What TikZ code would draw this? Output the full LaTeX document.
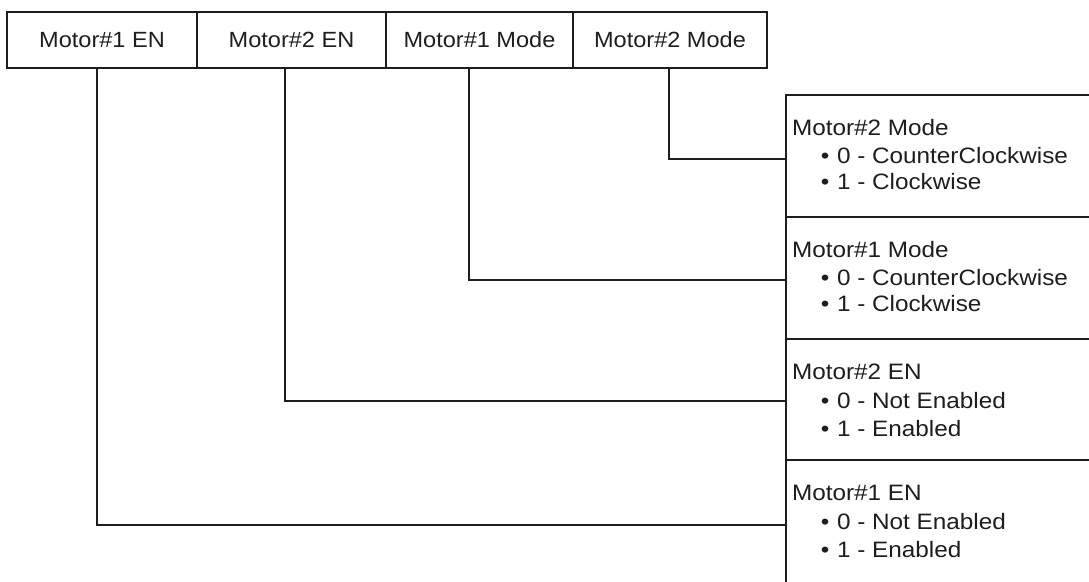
\documentclass[tikz,border=0pt]{standalone}
\usepackage{fontspec}
\newfontfamily\lab[FakeStretch=1.07]{Liberation Sans}
\newfontfamily\labw[FakeStretch=1.09]{Liberation Sans}
\definecolor{ink}{HTML}{1E1E1E}
\begin{document}
\begin{tikzpicture}[x=1pt,y=-1pt,
  every node/.style={font=\lab\fontsize{22}{26}\selectfont, text=ink, inner sep=0pt, outer sep=0pt},
  topbox/.style={draw=ink, line width=2.8pt, minimum height=56pt},
  sidebox/.style={draw=ink, line width=1.8pt, minimum width=314pt},
  sidetext/.style={font=\labw\fontsize{22.3}{26}\selectfont},
  head/.style={sidetext, anchor=base west},
  bul/.style={sidetext, anchor=base},
  item/.style={sidetext, anchor=base west},
  wire/.style={draw=ink, line width=1.6pt}]
\clip (0,0) rectangle (1089,581);
\useasboundingbox (0,0) rectangle (1089,581);
\fill[white] (0,0) rectangle (1089,581);

% top row
\node[topbox, minimum width=190pt] (t1) at (102,40) {Motor\#1 EN};
\node[topbox, minimum width=189pt] (t2) at (291.5,40) {Motor\#2 EN};
\node[topbox, minimum width=187pt] (t3) at (479.5,40) {Motor\#1 Mode};
\node[topbox, minimum width=194pt] (t4) at (670,40) {Motor\#2 Mode};

% right column
\node[sidebox, minimum height=122pt] (r1) at (943,156) {};
\node[sidebox, minimum height=122pt] (r2) at (943,278) {};
\node[sidebox, minimum height=121pt] (r3) at (943,399.5) {};
\node[sidebox, minimum height=130pt] (r4) at (943,525) {};

% texts of r1
\node[head] (h1) at ([xshift=6pt,yshift=-40pt]r1.north west) {Motor\#2 Mode};
\node[bul]  (b1a) at ([xshift=39pt,yshift=-68pt]r1.north west) {•};
\node[item] (i1a) at ([xshift=51pt,yshift=-68pt]r1.north west) {0 - CounterClockwise};
\node[bul]  (b1b) at ([xshift=39pt,yshift=-94pt]r1.north west) {•};
\node[item] (i1b) at ([xshift=51pt,yshift=-94pt]r1.north west) {1 - Clockwise};

% texts of r2
\node[head] (h2) at ([xshift=6pt,yshift=-40pt]r2.north west) {Motor\#1 Mode};
\node[bul]  (b2a) at ([xshift=39pt,yshift=-68pt]r2.north west) {•};
\node[item] (i2a) at ([xshift=51pt,yshift=-68pt]r2.north west) {0 - CounterClockwise};
\node[bul]  (b2b) at ([xshift=39pt,yshift=-94pt]r2.north west) {•};
\node[item] (i2b) at ([xshift=51pt,yshift=-94pt]r2.north west) {1 - Clockwise};

% texts of r3
\node[head] (h3) at ([xshift=6pt,yshift=-40pt]r3.north west) {Motor\#2 EN};
\node[bul]  (b3a) at ([xshift=39pt,yshift=-69pt]r3.north west) {•};
\node[item] (i3a) at ([xshift=51pt,yshift=-69pt]r3.north west) {0 - Not Enabled};
\node[bul]  (b3b) at ([xshift=39pt,yshift=-97pt]r3.north west) {•};
\node[item] (i3b) at ([xshift=51pt,yshift=-97pt]r3.north west) {1 - Enabled};

% texts of r4
\node[head] (h4) at ([xshift=6pt,yshift=-40pt]r4.north west) {Motor\#1 EN};
\node[bul]  (b4a) at ([xshift=39pt,yshift=-69pt]r4.north west) {•};
\node[item] (i4a) at ([xshift=51pt,yshift=-69pt]r4.north west) {0 - Not Enabled};
\node[bul]  (b4b) at ([xshift=39pt,yshift=-97pt]r4.north west) {•};
\node[item] (i4b) at ([xshift=51pt,yshift=-97pt]r4.north west) {1 - Enabled};

% connectors
\draw[wire] ([xshift=-1pt]t4.south) |- ([yshift=-3pt]r1.west);
\draw[wire] ([xshift=-10.5pt]t3.south) |- ([yshift=-2pt]r2.west);
\draw[wire] ([xshift=-6.5pt]t2.south) |- ([yshift=-1.5pt]r3.west);
\draw[wire] ([xshift=-5pt]t1.south) |- (r4.west);
\end{tikzpicture}
\end{document}
